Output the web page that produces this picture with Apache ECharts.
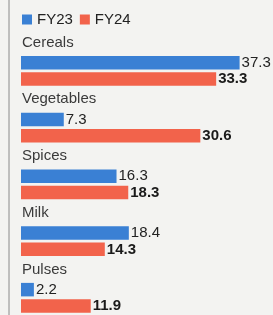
<!DOCTYPE html>
<html>
<head>
<meta charset="utf-8">
<script src="https://cdn.jsdelivr.net/npm/echarts@6/dist/echarts.min.js"></script>
<style>
html,body{margin:0;padding:0;background:#f3f3f1;overflow:hidden;}
#c{width:273px;height:315px;}
</style>
</head>
<body>
<div id="c"></div>
<script>
const categories = ['Cereals', 'Vegetables', 'Spices', 'Milk', 'Pulses'];
const fy23 = [37.3, 7.3, 16.3, 18.4, 2.2];
const fy24 = [33.3, 30.6, 18.3, 14.3, 11.9];
const seriesNames = ['FY23', 'FY24'];

const FONT = '"Liberation Sans", Arial, sans-serif';
const chart = echarts.init(document.getElementById('c'), null, {renderer: 'canvas'});
chart.setOption({
  backgroundColor: '#f3f3f1',
  animation: false,
  legend: {
    left: 17, top: 7,
    itemWidth: 10, itemHeight: 10, itemGap: 7,
    icon: 'rect',
    textStyle: {fontFamily: FONT, fontSize: 15, color: '#222'},
    data: seriesNames
  },
  grid: {left: 21, top: 42.5, width: 252, height: 283.75, outerBoundsMode: 'none', containLabel: false},
  xAxis: {type: 'value', min: 0, max: 43, show: false},
  yAxis: {
    type: 'category', inverse: true, data: categories,
    axisLine: {show: false}, axisTick: {show: false}, splitLine: {show: false},
    axisLabel: {
      inside: true, margin: 1, verticalAlign: 'bottom', align: 'left',
      padding: [0, 0, 21, 0],
      fontFamily: FONT, fontSize: 15, color: '#3a3a3a'
    }
  },
  graphic: [{
    type: 'line', shape: {x1: 9, y1: 0, x2: 9, y2: 315},
    style: {stroke: '#8a8a8a', lineWidth: 1}
  }],
  series: [
    {
      name: 'FY23', type: 'bar', data: fy23, barWidth: 13.5, barGap: '22%',
      itemStyle: {color: '#3a80d4'},
      label: {show: true, position: 'right', distance: 2, fontFamily: FONT, fontSize: 15, color: '#222', fontWeight: 'normal'}
    },
    {
      name: 'FY24', type: 'bar', data: fy24, barWidth: 13.5, barGap: '22%',
      itemStyle: {color: '#f2634b'},
      label: {show: true, position: 'right', distance: 2, fontFamily: FONT, fontSize: 15, color: '#1a1a1a', fontWeight: 'bold'}
    }
  ]
});
</script>
</body>
</html>
